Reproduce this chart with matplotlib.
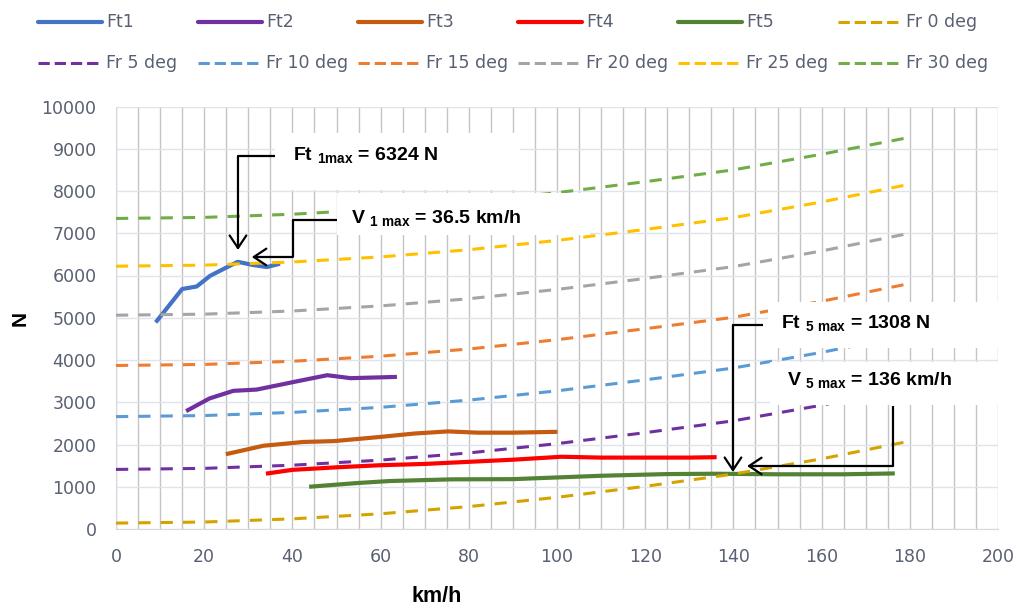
import matplotlib
matplotlib.use("Agg")
import matplotlib.pyplot as plt
from matplotlib.lines import Line2D
from matplotlib.patches import Rectangle
from matplotlib.ticker import MultipleLocator

plt.rcParams['font.family'] = ['DejaVu Sans']
plt.rcParams['mathtext.fontset'] = 'custom'
plt.rcParams['mathtext.bf'] = 'Liberation Sans:bold'
plt.rcParams['mathtext.rm'] = 'Liberation Sans'

# traction force per gear (km/h, N)
v_ft1 = [9, 15, 18.3, 21.3, 24.3, 27.6, 31, 34.2, 37.2]
ft1 = [4890, 5680, 5740, 5990, 6150, 6324, 6250, 6200, 6280]
v_ft2 = [15.9, 21.2, 26.6, 31.9, 40.3, 47.9, 53.2, 63.7]
ft2 = [2790, 3090, 3270, 3300, 3480, 3640, 3570, 3600]
v_ft3 = [24.9, 33.4, 42.5, 49.4, 60, 67.7, 75.3, 82.1, 90, 100.1]
ft3 = [1770, 1970, 2060, 2080, 2180, 2260, 2310, 2280, 2280, 2300]
v_ft4 = [34, 40, 50, 60, 70, 80, 90, 101, 110, 120, 130, 136.2]
ft4 = [1310, 1400, 1460, 1510, 1540, 1590, 1640, 1710, 1690, 1690, 1690, 1700]
v_ft5 = [43.8, 55, 62, 76, 90, 110, 125, 136, 150, 165, 176.6]
ft5 = [1000, 1090, 1135, 1175, 1180, 1260, 1300, 1308, 1295, 1295, 1315]

# running resistance at each slope
v_fr = [0, 20, 40, 60, 80, 100, 120, 140, 160, 180]
fr_0 = [140, 165, 240, 360, 530, 750, 1010, 1300, 1660, 2080]
fr_5 = [1410, 1435, 1510, 1630, 1800, 2020, 2280, 2560, 2930, 3350]
fr_10 = [2660, 2685, 2760, 2880, 3050, 3270, 3530, 3810, 4180, 4600]
fr_15 = [3870, 3895, 3970, 4090, 4260, 4480, 4740, 5010, 5390, 5810]
fr_20 = [5060, 5085, 5160, 5280, 5450, 5670, 5930, 6210, 6580, 7000]
fr_25 = [6220, 6245, 6320, 6440, 6610, 6830, 7090, 7370, 7740, 8160]
fr_30 = [7350, 7375, 7450, 7570, 7740, 7960, 8220, 8500, 8870, 9270]

ft_series = [("Ft1", v_ft1, ft1, "#4472C4"),
             ("Ft2", v_ft2, ft2, "#7030A0"),
             ("Ft3", v_ft3, ft3, "#C55A11"),
             ("Ft4", v_ft4, ft4, "#FF0000"),
             ("Ft5", v_ft5, ft5, "#548235")]
fr_series = [("Fr 0 deg", fr_0, "#D4A300"),
             ("Fr 5 deg", fr_5, "#7030A0"),
             ("Fr 10 deg", fr_10, "#5B9BD5"),
             ("Fr 15 deg", fr_15, "#ED7D31"),
             ("Fr 20 deg", fr_20, "#A5A5A5"),
             ("Fr 25 deg", fr_25, "#FFC000"),
             ("Fr 30 deg", fr_30, "#70AD47")]

txt_col = "#586072"
W, H = 1018, 608

fig = plt.figure(figsize=(10.18, 6.08), dpi=100)
ax = fig.add_axes([116 / W, 1 - 529 / H, 882 / W, 422.5 / H])

handles = []
for name, v, f, c in ft_series:
    ln, = ax.plot(v, f, color=c, lw=3.0, solid_capstyle='butt', zorder=3)
    handles.append((name, ln))
for name, f, c in fr_series:
    ln, = ax.plot(v_fr, f, color=c, lw=2.2, ls=(0, (4, 3.3)),
                  dash_capstyle='butt', zorder=3)
    handles.append((name, ln))

ax.set_xlim(0, 200)
ax.set_ylim(0, 10000)
ax.xaxis.set_major_locator(MultipleLocator(20))
ax.xaxis.set_minor_locator(MultipleLocator(5))
ax.yaxis.set_major_locator(MultipleLocator(1000))
ax.grid(axis='x', which='both', color='#C4C4C4', lw=1.0)
ax.grid(axis='y', which='major', color='#DFE3EA', lw=1.0)
ax.set_axisbelow(True)
for s in ['top', 'right']:
    ax.spines[s].set_visible(False)
ax.spines['left'].set_color('#D3DAE5')
ax.spines['bottom'].set_color('#D9D9D9')
ax.tick_params(which='both', length=0, labelsize=12.5, labelcolor=txt_col)
ax.tick_params(axis='y', pad=14)
ax.tick_params(axis='x', pad=14)

fig.text(20 / W, 1 - 318 / H, "N", rotation=90, ha='center', va='center',
         family='Liberation Sans', weight='bold', fontsize=15)
fig.text(437 / W, 1 - 597 / H, "km/h", ha='center', va='center',
         family='Liberation Sans', weight='bold', fontsize=15.5)

# legend laid out row by row, six entries per row
for i, (name, ln) in enumerate(handles):
    x0 = 38 + 160 * (i % 6)
    y = 1 - (22 + 41 * (i // 6)) / H
    fig.add_artist(Line2D([x0 / W, (x0 + 64) / W], [y, y],
                          color=ln.get_color(), lw=ln.get_linewidth(),
                          ls=ln.get_linestyle(), dash_capstyle='butt',
                          solid_capstyle='round'))
    fig.text((x0 + 68) / W, y, name, fontsize=12.5, color=txt_col,
             ha='left', va='center')

# white label boxes behind the annotations
boxes = [(36.1, 8020, 91.6, 9370),
         (50.1, 6960, 107.5, 7950),
         (147.8, 4290, 200, 5370),
         (148.3, 2940, 200, 3950)]
for x0, y0, x1, y1 in boxes:
    ax.add_patch(Rectangle((x0, y0), x1 - x0, y1 - y0, facecolor='white',
                           edgecolor='none', zorder=5))

bold = dict(family='Liberation Sans', weight='bold', fontsize=14,
            va='center', ha='left', zorder=7)
ax.text(40.2, 8830, r"Ft $_{\mathbf{1max}}$ = 6324 N", **bold)
ax.text(53.3, 7340, r"V $_{\mathbf{1\ max}}$ = 36.5 km/h", **bold)
ax.text(150.8, 4860, r"Ft $_{\mathbf{5\ max}}$ = 1308 N", **bold)
ax.text(152.2, 3510, r"V $_{\mathbf{5\ max}}$ = 136 km/h", **bold)

# elbow arrows pointing at the maxima
arrows = [([36.05, 27.66], [8828, 8828], (27.66, 6604)),
          ([50.1, 40.1, 40.1], [7314, 7314, 6438], (30.8, 6438)),
          ([146.7, 139.9], [4828, 4828], (139.9, 1349)),
          ([176.2, 176.2], [2911, 1491], (143.1, 1491))]
head = '->,head_length=0.9,head_width=0.6'
for xs, ys, tip in arrows:
    ax.plot(xs, ys, color='black', lw=1.6, zorder=6, solid_capstyle='butt')
    ax.annotate('', xy=tip, xytext=(xs[-1], ys[-1]),
                arrowprops=dict(arrowstyle=head, color='black', lw=1.6,
                                shrinkA=0, shrinkB=0), zorder=6)

fig.savefig("out.png", dpi=100)
